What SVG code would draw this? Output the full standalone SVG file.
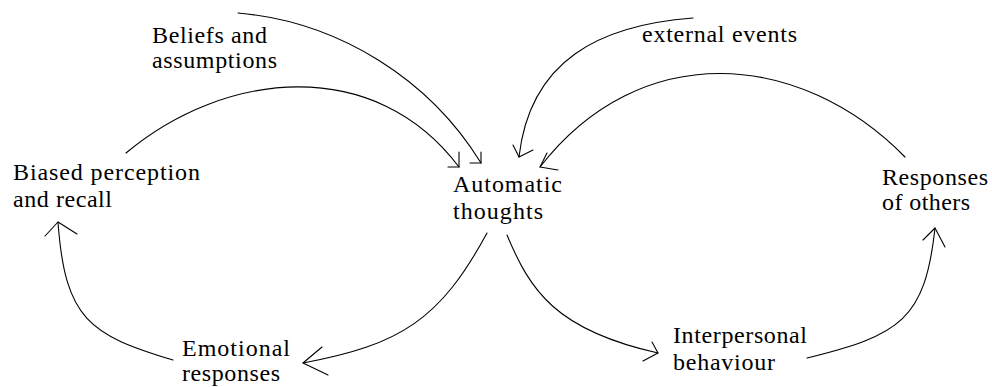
<svg xmlns="http://www.w3.org/2000/svg" width="992" height="387" viewBox="0 0 992 387">
<style>
text{font-family:"Liberation Serif","Times New Roman",Times,serif;font-size:24px;fill:#000}
.c{fill:none;stroke:#000;stroke-width:1.1;stroke-linecap:round;stroke-linejoin:round}
</style>
<rect width="992" height="387" fill="#fff"/>
<g id="connectors">
<path class="c" d="M238,13 C340,22 430,80 481,163"/>
<polyline class="c" points="481,152 481,163 470,163"/>
<path class="c" d="M126,153 C225,70 375,55 459,167"/>
<polyline class="c" points="459,152 459,167 448,167"/>
<path class="c" d="M693,18 C600,25 530,60 519,157"/>
<polyline class="c" points="513,145 519,157 533,150"/>
<path class="c" d="M905,157 C800,50 640,38 540,167"/>
<polyline class="c" points="547,153 540,167 558,170"/>
<path class="c" d="M487,233 C440,320 400,345 303,363"/>
<polyline class="c" points="322,347 303,363 328,375"/>
<path class="c" d="M173,360 C90,335 65,320 58,222"/>
<polyline class="c" points="45,236 58,222 77,234"/>
<path class="c" d="M507,235 C530,290 555,330 658,353"/>
<polyline class="c" points="652,342 658,353 643,361"/>
<path class="c" d="M807,358 C900,335 925,320 935,228"/>
<polyline class="c" points="923,240 935,228 945,247"/>
</g>
<g id="beliefs"><text x="152" y="43" textLength="115" lengthAdjust="spacing">Beliefs and</text><text x="152" y="68" textLength="125" lengthAdjust="spacing">assumptions</text></g>
<g id="external"><text x="642" y="42" textLength="155" lengthAdjust="spacing">external events</text></g>
<g id="biased"><text x="13" y="180" textLength="187" lengthAdjust="spacing">Biased perception</text><text x="13" y="207" textLength="99" lengthAdjust="spacing">and recall</text></g>
<g id="automatic"><text x="453" y="192" textLength="109" lengthAdjust="spacing">Automatic</text><text x="453" y="219" textLength="90" lengthAdjust="spacing">thoughts</text></g>
<g id="responses"><text x="882" y="185" textLength="106" lengthAdjust="spacing">Responses</text><text x="882" y="210" textLength="88" lengthAdjust="spacing">of others</text></g>
<g id="emotional"><text x="182" y="356" textLength="108" lengthAdjust="spacing">Emotional</text><text x="182" y="381" textLength="98" lengthAdjust="spacing">responses</text></g>
<g id="interpersonal"><text x="673" y="343" textLength="134" lengthAdjust="spacing">Interpersonal</text><text x="673" y="370" textLength="102" lengthAdjust="spacing">behaviour</text></g>
</svg>
